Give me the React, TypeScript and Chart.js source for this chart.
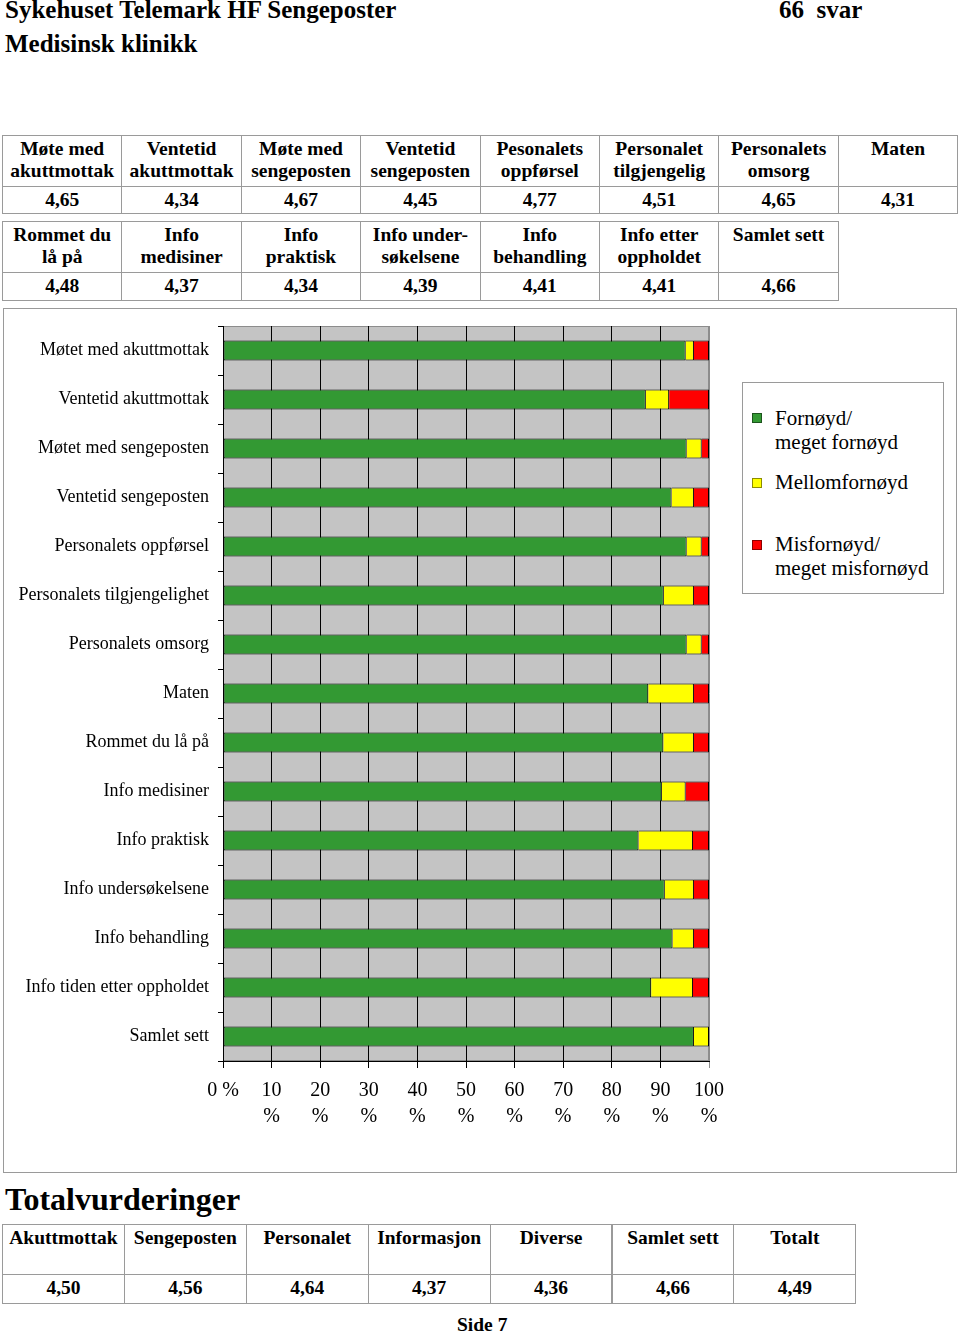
import React, { useEffect, useRef } from 'react';
import { Chart, registerables } from 'chart.js';

Chart.register(...registerables);

const FONT = "'Liberation Serif', 'Times New Roman', serif";

// ---------- chart data ----------
const categories = [
  'Møtet med akuttmottak',
  'Ventetid akuttmottak',
  'Møtet med sengeposten',
  'Ventetid sengeposten',
  'Personalets oppførsel',
  'Personalets tilgjengelighet',
  'Personalets omsorg',
  'Maten',
  'Rommet du lå på',
  'Info medisiner',
  'Info praktisk',
  'Info undersøkelsene',
  'Info behandling',
  'Info tiden etter oppholdet',
  'Samlet sett',
];
const satisfied = [95.2, 87.0, 95.4, 92.3, 95.4, 90.7, 95.4, 87.5, 90.6, 90.3, 85.5, 90.9, 92.5, 88.1, 96.9];
const neutral = [1.7, 4.8, 3.1, 4.6, 3.1, 6.2, 3.1, 9.4, 6.3, 4.9, 11.2, 6.0, 4.4, 8.6, 3.1];
const dissatisfied = [3.1, 8.2, 1.5, 3.1, 1.5, 3.1, 1.5, 3.1, 3.1, 4.8, 3.3, 3.1, 3.1, 3.3, 0];

const seriesNames = ['Fornøyd/ meget fornøyd', 'Mellomfornøyd', 'Misfornøyd/ meget misfornøyd'];
const legendLines = [['Fornøyd/', 'meget fornøyd'], ['Mellomfornøyd'], ['Misfornøyd/', 'meget misfornøyd']];
const seriesColors = ['#339933', '#FFFF00', '#FF0000'];

const xTickLabels = [
  ['0 %'], ['10', '%'], ['20', '%'], ['30', '%'], ['40', '%'], ['50', '%'],
  ['60', '%'], ['70', '%'], ['80', '%'], ['90', '%'], ['100', '%'],
];

// ---------- table data ----------
const table1Headers = [
  ['Møte med', 'akuttmottak'], ['Ventetid', 'akuttmottak'], ['Møte med', 'sengeposten'],
  ['Ventetid', 'sengeposten'], ['Pesonalets', 'oppførsel'], ['Personalet', 'tilgjengelig'],
  ['Personalets', 'omsorg'], ['Maten'],
];
const table1Values = ['4,65', '4,34', '4,67', '4,45', '4,77', '4,51', '4,65', '4,31'];
const table2Headers = [
  ['Rommet du', 'lå på'], ['Info', 'medisiner'], ['Info', 'praktisk'], ['Info under-', 'søkelsene'],
  ['Info', 'behandling'], ['Info etter', 'oppholdet'], ['Samlet sett'],
];
const table2Values = ['4,48', '4,37', '4,34', '4,39', '4,41', '4,41', '4,66'];
const table3Headers = [['Akuttmottak'], ['Sengeposten'], ['Personalet'], ['Informasjon'], ['Diverse'], ['Samlet sett'], ['Totalt']];
const table3Values = ['4,50', '4,56', '4,64', '4,37', '4,36', '4,66', '4,49'];

const BORDER = '1px solid #9a9a9a';

function Table(props: {
  left: number; top: number; step: number; rows: number[];
  headers: string[][]; values: string[];
}) {
  const { left, step, rows, headers, values } = props;
  const cells: React.ReactNode[] = [];
  headers.forEach((h, i) => {
    const x = left + i * step;
    const w = step + 1;
    cells.push(
      <div key={'h' + i} style={{
        position: 'absolute', left: x, top: rows[0], width: w, height: rows[1] - rows[0] + 1,
        border: BORDER, boxSizing: 'border-box', textAlign: 'center', paddingTop: 2,
        fontSize: 19.5, lineHeight: '22px', fontWeight: 'bold', whiteSpace: 'nowrap',
      }}>
        {h.map((l, k) => <div key={k}>{l}</div>)}
      </div>
    );
    cells.push(
      <div key={'v' + i} style={{
        position: 'absolute', left: x, top: rows[1], width: w, height: rows[2] - rows[1] + 1,
        border: BORDER, boxSizing: 'border-box', textAlign: 'center', paddingTop: 1.5,
        fontSize: 19.5, lineHeight: '22px', fontWeight: 'bold',
      }}>{values[i]}</div>
    );
  });
  return <>{cells}</>;
}

const plotBackground = {
  id: 'plotBackground',
  beforeDraw(chart: any) {
    const { ctx, chartArea: a } = chart;
    ctx.save();
    ctx.fillStyle = '#C4C4C4';
    ctx.fillRect(a.left, a.top, a.right - a.left, a.bottom - a.top);
    ctx.strokeStyle = '#8c8c8c';
    ctx.lineWidth = 1;
    ctx.strokeRect(a.left + 0.5, a.top + 0.5, a.right - a.left - 1, a.bottom - a.top - 1);
    ctx.restore();
  },
};

const CANVAS_W = 740;

function BarChart() {
  const ref = useRef<HTMLCanvasElement>(null);
  useEffect(() => {
    if (!ref.current) return;
    const data = [satisfied, neutral, dissatisfied];
    const chart = new Chart(ref.current, {
      type: 'bar',
      data: {
        labels: categories,
        datasets: data.map((d, i) => ({
          label: seriesNames[i],
          data: d,
          backgroundColor: seriesColors[i],
          borderColor: '#000000',
          borderWidth: i === 0 ? 1 : { top: 1, bottom: 1, left: 0, right: 1 },
          borderSkipped: false,
          barPercentage: 0.41,
          categoryPercentage: 1,
        })),
      },
      options: {
        indexAxis: 'y',
        responsive: false,
        animation: false,
        devicePixelRatio: 1,
        layout: { padding: { left: 0, right: CANVAS_W - 709, top: 26, bottom: 0 } },
        plugins: { legend: { display: false }, tooltip: { enabled: false } },
        scales: {
          x: {
            stacked: true,
            min: 0,
            max: 100,
            afterFit: (s: any) => { s.height = 119; },
            ticks: {
              stepSize: 10,
              autoSkip: false,
              maxRotation: 0,
              padding: 10,
              color: '#000',
              font: { family: FONT, size: 20, lineHeight: 1.3 },
              callback: (_v: any, idx: number) => xTickLabels[idx],
            },
            grid: {
              color: (c: any) => (c.index === 10 ? '#8c8c8c' : '#000000'),
              lineWidth: 1,
              tickLength: 7,
            },
            border: { display: true, color: '#000000' },
          },
          y: {
            stacked: true,
            afterFit: (s: any) => { s.width = 223; },
            ticks: {
              padding: 9,
              color: '#000',
              font: { family: FONT, size: 18 },
            },
            grid: {
              drawOnChartArea: false,
              color: '#000000',
              tickLength: 5,
              offset: true,
            },
            border: { display: true, color: '#000000' },
          },
        },
      },
      plugins: [plotBackground],
    });
    return () => chart.destroy();
  }, []);
  return <canvas ref={ref} width={CANVAS_W} height={880} style={{ position: 'absolute', left: 0, top: 300, width: CANVAS_W, height: 880 }} />;
}

export default function App() {
  const legendTops = [405.9, 470.2, 531.6];
  const squareTops = [412.7, 478, 540];
  const step12 = 119.4;
  return (
    <div style={{ position: 'absolute', left: 0, top: 0, width: 960, height: 1334, fontFamily: FONT, color: '#000', background: '#fff', overflow: 'hidden' }}>
      <div style={{ position: 'absolute', left: 5, top: -2.6, fontSize: 25, lineHeight: '25px', fontWeight: 'bold', whiteSpace: 'nowrap' }}>Sykehuset Telemark HF Sengeposter</div>
      <div style={{ position: 'absolute', left: 779, top: -2.6, fontSize: 25, lineHeight: '25px', fontWeight: 'bold', whiteSpace: 'pre' }}>66  svar</div>
      <div style={{ position: 'absolute', left: 5, top: 30.8, fontSize: 25, lineHeight: '25px', fontWeight: 'bold', whiteSpace: 'nowrap' }}>Medisinsk klinikk</div>

      <Table left={2} top={135} step={step12} rows={[135, 186, 213]} headers={table1Headers} values={table1Values} />
      <Table left={2} top={221} step={step12} rows={[221, 272, 300]} headers={table2Headers} values={table2Values} />

      <div style={{ position: 'absolute', left: 3, top: 308, width: 954, height: 865, border: BORDER, boxSizing: 'border-box' }} />
      <BarChart />

      <div style={{ position: 'absolute', left: 742, top: 382, width: 202, height: 212, border: BORDER, boxSizing: 'border-box', background: '#fff' }} />
      {legendLines.map((lines, i) => (
        <React.Fragment key={i}>
          <div style={{ position: 'absolute', left: 752, top: squareTops[i], width: 10, height: 10, background: seriesColors[i], border: '1px solid rgba(0,0,0,0.45)', boxSizing: 'border-box' }} />
          <div style={{ position: 'absolute', left: 775, top: legendTops[i], fontSize: 21, lineHeight: '24px', whiteSpace: 'nowrap' }}>
            {lines.map((l, k) => <div key={k}>{l}</div>)}
          </div>
        </React.Fragment>
      ))}

      <div style={{ position: 'absolute', left: 5, top: 1183.2, fontSize: 32, lineHeight: '32px', fontWeight: 'bold', whiteSpace: 'nowrap' }}>Totalvurderinger</div>
      <Table left={2} top={1224} step={121.9} rows={[1224, 1274, 1303]} headers={table3Headers} values={table3Values} />
      <div style={{ position: 'absolute', left: 457, top: 1314.4, fontSize: 19.5, lineHeight: '22px', fontWeight: 'bold', whiteSpace: 'nowrap' }}>Side 7</div>
    </div>
  );
}
